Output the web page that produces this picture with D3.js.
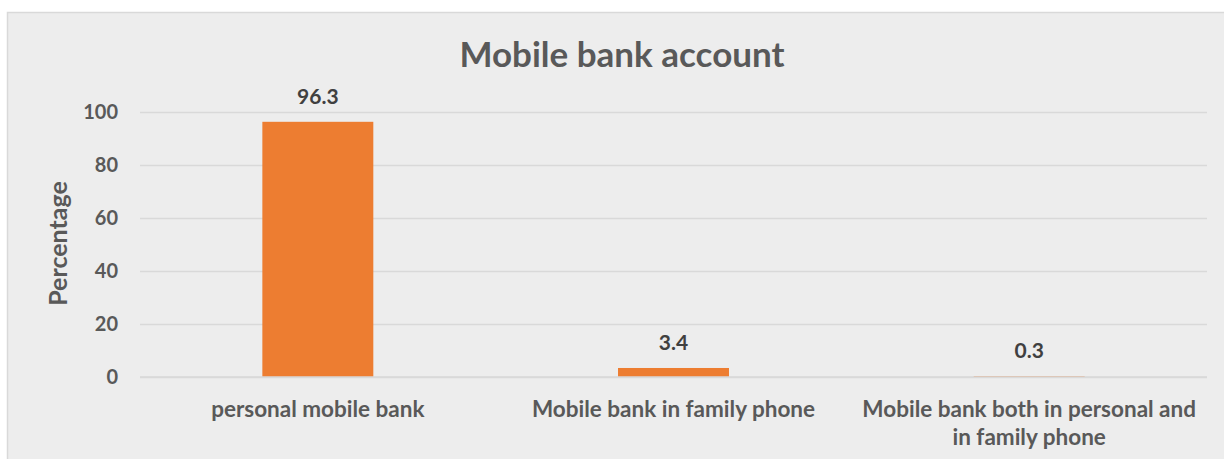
<!DOCTYPE html>
<html>
<head>
<meta charset="utf-8">
<script src="https://cdn.jsdelivr.net/npm/d3@7"></script>
<style>
  html, body { margin: 0; padding: 0; background: #ffffff; }
  svg { display: block; }
  text { font-family: Lato, "Open Sans", sans-serif; font-weight: 700; }
</style>
</head>
<body>
<svg id="chart" width="1224" height="459"></svg>
<script>
// Share of respondents by where the mobile bank account lives
const categories = [
  ["personal mobile bank"],
  ["Mobile bank in family phone"],
  ["Mobile bank both in personal and", "in family phone"]
];
const values = [96.3, 3.4, 0.3];
const yTicks = [0, 20, 40, 60, 80, 100];
const chartTitle = "Mobile bank account";
const yTitle = "Percentage";

const W = 1224, H = 459;
const margin = { left: 140, right: 17, top: 112, bottom: 82 };

const svg = d3.select("#chart");

// chart area panel
svg.append("rect")
  .attr("x", 7.5).attr("y", 12.5)
  .attr("width", W).attr("height", H)
  .attr("fill", "#ededed")
  .attr("stroke", "#d9d9d9").attr("stroke-width", 1.5);

const x = d3.scaleBand()
  .domain(d3.range(categories.length))
  .range([margin.left, W - margin.right])
  .paddingInner(0.688).paddingOuter(0.344);

const y = d3.scaleLinear()
  .domain([0, 100])
  .range([H - margin.bottom, margin.top]);

// gridlines and tick labels
const yAxis = d3.axisLeft(y).tickValues(yTicks)
  .tickSize(-(W - margin.right - margin.left)).tickPadding(22);
const gy = svg.append("g")
  .attr("transform", `translate(${margin.left},0)`)
  .call(yAxis);
gy.select(".domain").remove();
gy.selectAll(".tick line").attr("stroke", "#d9d9d9").attr("stroke-width", 1.5);
gy.selectAll(".tick text")
  .attr("fill", "#595959")
  .attr("font-size", 20)
  .attr("font-family", "Lato, sans-serif")
  .attr("font-weight", 700);

// bars
svg.append("g").selectAll("rect")
  .data(values)
  .join("rect")
  .attr("x", (d, i) => x(i))
  .attr("width", x.bandwidth())
  .attr("y", d => y(d))
  .attr("height", d => y(0) - y(d))
  .attr("fill", "#ed7d31");

// category axis line along zero
svg.append("line")
  .attr("x1", margin.left).attr("x2", W - margin.right)
  .attr("y1", y(0)).attr("y2", y(0))
  .attr("stroke", "#d9d9d9").attr("stroke-width", 1.5);

// value labels
svg.append("g").selectAll("text")
  .data(values)
  .join("text")
  .attr("x", (d, i) => x(i) + x.bandwidth() / 2)
  .attr("y", d => y(d) - 18)
  .attr("text-anchor", "middle")
  .attr("fill", "#404040")
  .attr("font-size", 21)
  .text(d => d.toFixed(1));

// category labels
const xl = svg.append("g").selectAll("text")
  .data(categories)
  .join("text")
  .attr("x", (d, i) => x(i) + x.bandwidth() / 2)
  .attr("y", 417)
  .attr("text-anchor", "middle")
  .attr("fill", "#595959")
  .attr("font-size", 22.5);
xl.selectAll("tspan")
  .data(d => d)
  .join("tspan")
  .attr("x", function () { return d3.select(this.parentNode).attr("x"); })
  .attr("dy", (d, i) => i === 0 ? 0 : 28)
  .text(d => d);

// axis title
svg.append("text")
  .attr("transform", `translate(67,${y(50) - 1}) rotate(-90)`)
  .attr("text-anchor", "middle")
  .attr("fill", "#595959")
  .attr("font-size", 25)
  .text(yTitle);

// chart title
svg.append("text")
  .attr("x", 622)
  .attr("y", 67)
  .attr("text-anchor", "middle")
  .attr("fill", "#595959")
  .attr("font-size", 35)
  .text(chartTitle);
</script>
</body>
</html>
